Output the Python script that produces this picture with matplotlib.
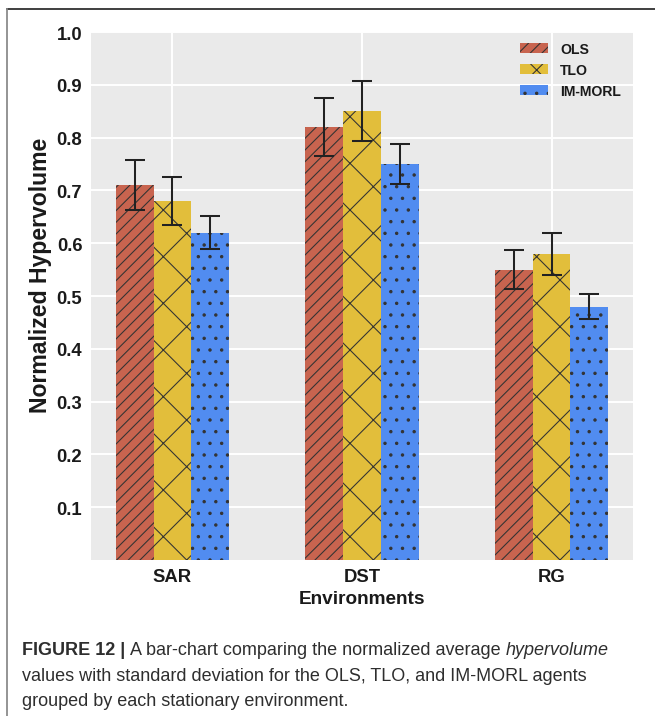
import matplotlib
matplotlib.use("Agg")
import matplotlib.pyplot as plt
import numpy as np
from matplotlib.lines import Line2D

# ---- data ----
environments = ["SAR", "DST", "RG"]
agents = ["OLS", "TLO", "IM-MORL"]
ols_mean = [0.71, 0.82, 0.55]
tlo_mean = [0.68, 0.85, 0.58]
immorl_mean = [0.62, 0.75, 0.48]
ols_std = [0.047, 0.055, 0.037]
tlo_std = [0.045, 0.057, 0.040]
immorl_std = [0.031, 0.038, 0.024]
y_ticks = [0.1, 0.2, 0.3, 0.4, 0.5, 0.6, 0.7, 0.8, 0.9, 1.0]

colors = ["#C8644F", "#E2BE3B", "#518CF0"]
hatches = ["////", "x", ".."]

DPI = 140
plt.rcParams["font.family"] = ["Liberation Sans", "DejaVu Sans"]
plt.rcParams["hatch.color"] = "#333333"
plt.rcParams["hatch.linewidth"] = 0.55

fig = plt.figure(figsize=(655 / DPI, 717 / DPI), dpi=DPI)
W, H = 655, 717
ax = fig.add_axes([91 / W, 1 - 561 / H, (633 - 91) / W, (561 - 33) / H])
ax.set_facecolor("#EAEAEA")
for s in ax.spines.values():
    s.set_visible(False)

x = np.arange(len(environments))
width = 0.2
means = [ols_mean, tlo_mean, immorl_mean]
stds = [ols_std, tlo_std, immorl_std]
for i, (m, sd) in enumerate(zip(means, stds)):
    ax.bar(x + (i - 1) * width, m, width, yerr=sd, color=colors[i],
           hatch=hatches[i], label=agents[i], zorder=2,
           error_kw=dict(ecolor="#222222", elinewidth=1.05, capsize=5.2,
                         capthick=1.05, zorder=3))

ax.set_ylim(0, 1.0)
ax.set_yticks(y_ticks)
ax.set_yticklabels([f"{v:.1f}" for v in y_ticks])
ax.set_xticks(x)
ax.set_xticklabels(environments)
ax.grid(True, color="white", linewidth=1.0, zorder=0)
ax.set_axisbelow(True)
ax.tick_params(axis="both", length=0, labelsize=9.5, labelcolor="#1a1a1a")
ax.tick_params(axis="y", pad=4.5)
ax.tick_params(axis="x", pad=4)
for lab in ax.get_xticklabels() + ax.get_yticklabels():
    lab.set_fontweight("bold")

ax.set_xlabel("Environments", fontsize=9.8, fontweight="bold", color="#1a1a1a",
              labelpad=2.5)
ax.set_ylabel("Normalized Hypervolume", fontsize=11.8, fontweight="bold",
              color="#1a1a1a")
ax.yaxis.set_label_coords(-(91 - 52) / (633 - 91), (561 - 275) / (561 - 33))

leg = ax.legend(loc="upper right", frameon=False, fontsize=7.2,
                handlelength=2.0, handleheight=0.75, labelspacing=0.5,
                handletextpad=0.9, borderaxespad=0.8,
                bbox_to_anchor=(1.009, 1.013))
for t in leg.get_texts():
    t.set_fontweight("bold")
    t.set_color("#1a1a1a")

# ---- outer frame ----
fig.add_artist(Line2D([7 / W, 1.0], [1 - 10 / H, 1 - 10 / H],
                      transform=fig.transFigure, color="#2a2a2a", lw=0.9))
fig.add_artist(Line2D([7 / W, 7 / W], [1 - 10 / H, 0.0],
                      transform=fig.transFigure, color="#888888", lw=0.9))

# ---- caption ----
cap_size = 9.25
cap_color = "#2e2e2e"
renderer = fig.canvas.get_renderer()


def put_runs(runs, x0, y0):
    xpos = x0
    for txt, kw in runs:
        t = fig.text(xpos / W, 1 - y0 / H, txt, fontsize=cap_size,
                     color=cap_color, va="baseline", ha="left", **kw)
        bb = t.get_window_extent(renderer=renderer)
        xpos += bb.width


put_runs([("FIGURE 12 | ", dict(fontweight="bold")),
          ("A bar-chart comparing the normalized average ", {}),
          ("hypervolume", dict(style="italic"))], 22, 655)
put_runs([("values with standard deviation for the OLS, TLO, and IM-MORL agents", {})],
         22, 681)
put_runs([("grouped by each stationary environment.", {})], 22, 706)

fig.savefig("out.png", dpi=DPI)
